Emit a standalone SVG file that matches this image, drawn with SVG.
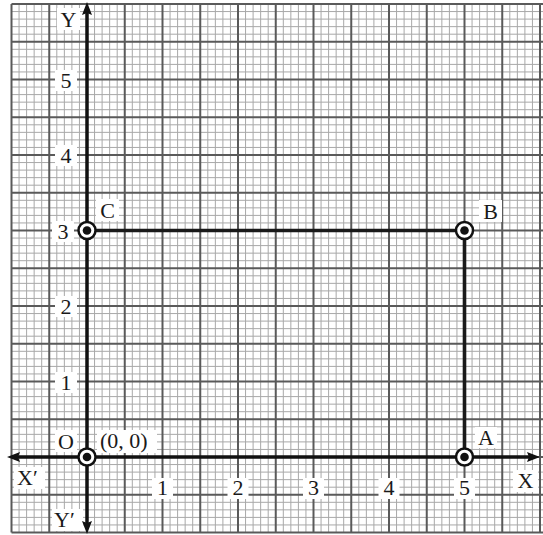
<svg xmlns="http://www.w3.org/2000/svg" width="543" height="535" viewBox="0 0 543 535">
<style>
.minor{stroke:#a8a8a8;stroke-width:1;fill:none}
.major{stroke:#5a5a5a;stroke-width:2;fill:none}
.axis{stroke:#111;stroke-width:3.5;fill:none}
.edge{stroke:#1a1a1a;stroke-width:3.6;fill:none}
.bg{fill:#fff}
.lbl{font-family:"Liberation Serif","DejaVu Serif",serif;font-size:22px;fill:#1a1a1a}
.mid{text-anchor:middle}
.ring{fill:#fff;stroke:#111;stroke-width:2.5}
.dot{fill:#111}
</style>
<defs>
<marker id="arr" viewBox="0 0 13 10" refX="2" refY="5" markerWidth="13" markerHeight="10" markerUnits="userSpaceOnUse" orient="auto-start-reverse">
<path d="M0,0 L13,5 L0,10 L2,5 z" fill="#111"/>
</marker>
</defs>
<rect width="543" height="535" fill="#fff"/>
<g id="grid">
<path class="minor" d="M19.05 4V532.5M26.6 4V532.5M34.15 4V532.5M41.7 4V532.5M56.8 4V532.5M64.35 4V532.5M71.9 4V532.5M79.45 4V532.5M94.55 4V532.5M102.1 4V532.5M109.65 4V532.5M117.2 4V532.5M132.3 4V532.5M139.85 4V532.5M147.4 4V532.5M154.95 4V532.5M170.05 4V532.5M177.6 4V532.5M185.15 4V532.5M192.7 4V532.5M207.8 4V532.5M215.35 4V532.5M222.9 4V532.5M230.45 4V532.5M245.55 4V532.5M253.1 4V532.5M260.65 4V532.5M268.2 4V532.5M283.3 4V532.5M290.85 4V532.5M298.4 4V532.5M305.95 4V532.5M321.05 4V532.5M328.6 4V532.5M336.15 4V532.5M343.7 4V532.5M358.8 4V532.5M366.35 4V532.5M373.9 4V532.5M381.45 4V532.5M396.55 4V532.5M404.1 4V532.5M411.65 4V532.5M419.2 4V532.5M434.3 4V532.5M441.85 4V532.5M449.4 4V532.5M456.95 4V532.5M472.05 4V532.5M479.6 4V532.5M487.15 4V532.5M494.7 4V532.5M509.8 4V532.5M517.35 4V532.5M524.9 4V532.5M532.45 4V532.5"/>
<path class="minor" d="M11.5 524.95H543M11.5 517.4H543M11.5 509.85H543M11.5 502.3H543M11.5 487.2H543M11.5 479.65H543M11.5 472.1H543M11.5 464.55H543M11.5 449.45H543M11.5 441.9H543M11.5 434.35H543M11.5 426.8H543M11.5 411.7H543M11.5 404.15H543M11.5 396.6H543M11.5 389.05H543M11.5 373.95H543M11.5 366.4H543M11.5 358.85H543M11.5 351.3H543M11.5 336.2H543M11.5 328.65H543M11.5 321.1H543M11.5 313.55H543M11.5 298.45H543M11.5 290.9H543M11.5 283.35H543M11.5 275.8H543M11.5 260.7H543M11.5 253.15H543M11.5 245.6H543M11.5 238.05H543M11.5 222.95H543M11.5 215.4H543M11.5 207.85H543M11.5 200.3H543M11.5 185.2H543M11.5 177.65H543M11.5 170.1H543M11.5 162.55H543M11.5 147.45H543M11.5 139.9H543M11.5 132.35H543M11.5 124.8H543M11.5 109.7H543M11.5 102.15H543M11.5 94.6H543M11.5 87.05H543M11.5 71.95H543M11.5 64.4H543M11.5 56.85H543M11.5 49.3H543M11.5 34.2H543M11.5 26.65H543M11.5 19.1H543M11.5 11.55H543"/>
<path class="major" d="M11.5 4V532.5M49.25 4V532.5M87 4V532.5M124.75 4V532.5M162.5 4V532.5M200.25 4V532.5M238 4V532.5M275.75 4V532.5M313.5 4V532.5M351.25 4V532.5M389 4V532.5M426.75 4V532.5M464.5 4V532.5M502.25 4V532.5M540 4V532.5"/>
<path class="major" d="M11.5 532.5H543M11.5 494.75H543M11.5 457H543M11.5 419.25H543M11.5 381.5H543M11.5 343.75H543M11.5 306H543M11.5 268.25H543M11.5 230.5H543M11.5 192.75H543M11.5 155H543M11.5 117.25H543M11.5 79.5H543M11.5 41.75H543M11.5 4H543"/>
</g>
<g id="axis-labels">
<rect class="bg" x="57" y="8" width="23" height="22"/><text class="lbl mid" x="68.5" y="27">Y</text>
<rect class="bg" x="55" y="70" width="22" height="21"/><text class="lbl mid" x="66" y="87.5">5</text>
<rect class="bg" x="55" y="145" width="22" height="21"/><text class="lbl mid" x="66" y="163">4</text>
<rect class="bg" x="52" y="221" width="22" height="21"/><text class="lbl mid" x="63" y="238.5">3</text>
<rect class="bg" x="55" y="296" width="22" height="21"/><text class="lbl mid" x="66" y="314">2</text>
<rect class="bg" x="55" y="372" width="22" height="21"/><text class="lbl mid" x="66" y="389.5">1</text>
<rect class="bg" x="14" y="467" width="31" height="22"/><text class="lbl" x="17" y="485">X′</text>
<rect class="bg" x="513" y="470" width="25" height="22"/><text class="lbl mid" x="525.5" y="488">X</text>
<rect class="bg" x="52" y="509" width="31" height="22"/><text class="lbl" x="54" y="527">Y′</text>
<rect class="bg" x="152" y="478" width="21" height="21"/><text class="lbl mid" x="162.5" y="495">1</text>
<rect class="bg" x="227.5" y="478" width="21" height="21"/><text class="lbl mid" x="238" y="495">2</text>
<rect class="bg" x="303" y="478" width="21" height="21"/><text class="lbl mid" x="313.5" y="495">3</text>
<rect class="bg" x="378.5" y="478" width="21" height="21"/><text class="lbl mid" x="389" y="495">4</text>
<rect class="bg" x="454" y="478" width="21" height="21"/><text class="lbl mid" x="464.5" y="495">5</text>
</g>
<g id="connectors">
<path class="axis" d="M18 457H529" marker-start="url(#arr)" marker-end="url(#arr)"/>
<path class="axis" d="M87 13V523" marker-start="url(#arr)" marker-end="url(#arr)"/>
<path class="edge" d="M87 230.5H464.5V457"/>
</g>
<g id="node-O">
<rect class="bg" x="55" y="430" width="22" height="22"/><text class="lbl mid" x="66" y="449">O</text>
<rect class="bg" x="97" y="430" width="60" height="23"/><text class="lbl" x="100" y="448">(0, 0)</text>
<circle class="ring" cx="87" cy="457" r="8.5"/><circle class="dot" cx="87" cy="457" r="4.3"/>
</g>
<g id="node-A">
<rect class="bg" x="475" y="427" width="22" height="21"/><text class="lbl mid" x="486" y="445">A</text>
<circle class="ring" cx="464.5" cy="457" r="8.5"/><circle class="dot" cx="464.5" cy="457" r="4.3"/>
</g>
<g id="node-B">
<rect class="bg" x="479" y="200" width="23" height="22"/><text class="lbl mid" x="490.5" y="219">B</text>
<circle class="ring" cx="464.5" cy="230.5" r="8.5"/><circle class="dot" cx="464.5" cy="230.5" r="4.3"/>
</g>
<g id="node-C">
<rect class="bg" x="96" y="199" width="23" height="22"/><text class="lbl mid" x="107.5" y="218">C</text>
<circle class="ring" cx="87" cy="230.5" r="8.5"/><circle class="dot" cx="87" cy="230.5" r="4.3"/>
</g>
</svg>
